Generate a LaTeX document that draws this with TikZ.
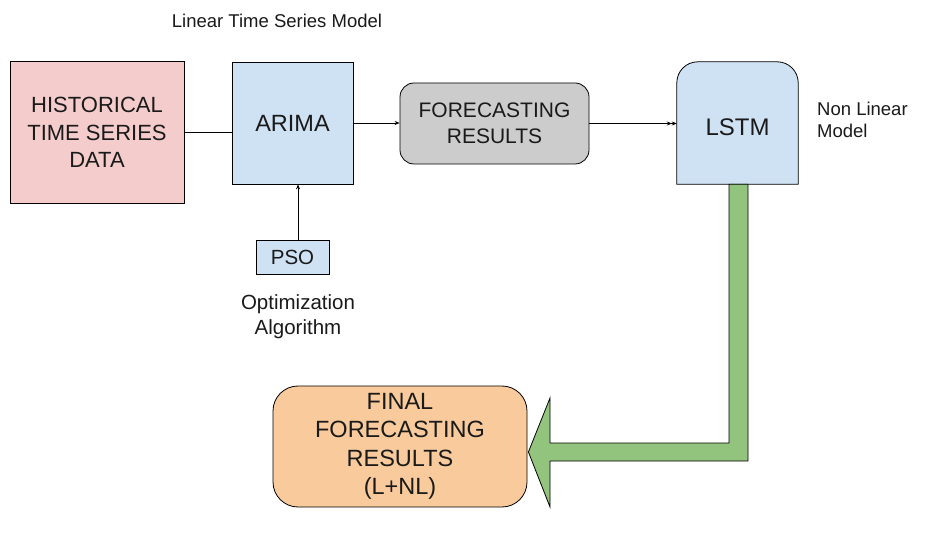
\documentclass[tikz,border=0pt]{standalone}
\usepackage{fontspec}
\setmainfont{Liberation Sans}
\usetikzlibrary{calc,arrows.meta}
\definecolor{pinkf}{HTML}{F4CCCC}
\definecolor{bluef}{HTML}{CFE2F3}
\definecolor{grayf}{HTML}{CCCCCC}
\definecolor{orangef}{HTML}{F9CB9C}
\definecolor{greenf}{HTML}{93C47D}
\definecolor{txt}{HTML}{1A1A1A}
\tikzset{
  box/.style={draw=black, line width=0.8pt, inner sep=0pt, align=center, text=txt},
  lbl/.style={inner sep=0pt, text=txt},
  conn/.style={line width=0.7pt, draw=black},
  tip/.style={-{Stealth[length=5pt,width=4pt]}},
}
\begin{document}
\begin{tikzpicture}[x=1pt,y=-1pt]
\useasboundingbox (0,0) rectangle (926,534);
\fill[white] (0,0) rectangle (926,534);

\node[box, fill=pinkf, minimum width=174pt, minimum height=142pt,
      font=\fontsize{22}{27.5}\selectfont] (hist) at (97,132.5)
  {HISTORICAL\\TIME SERIES\\DATA};
\node[box, fill=bluef, minimum width=121pt, minimum height=122pt,
      font=\fontsize{23.5}{28}\selectfont] (arima) at (292.5,123) {ARIMA};
\node[box, fill=grayf, rounded corners=14pt, minimum width=189pt, minimum height=81pt,
      font=\fontsize{21}{26}\selectfont] (fc) at (494.5,123.5)
  {FORECASTING\\RESULTS};

% LSTM: top corners rounded, bottom corners square
\node[inner sep=0pt, minimum width=121pt, minimum height=122pt] (lstm) at (737.5,123) {};
\draw[line width=0.8pt, fill=bluef]
  (lstm.south west) -- ($(lstm.north west)+(0,21)$)
  .. controls ($(lstm.north west)+(0,9.4)$) and ($(lstm.north west)+(9.4,0)$) .. ($(lstm.north west)+(21,0)$)
  -- ($(lstm.north east)+(-21,0)$)
  .. controls ($(lstm.north east)+(-9.4,0)$) and ($(lstm.north east)+(0,9.4)$) .. ($(lstm.north east)+(0,21)$)
  -- (lstm.south east) -- cycle;
\node[lbl, font=\fontsize{24}{28}\selectfont] (lstmtxt) at ($(lstm.center)+(0,4)$) {LSTM};

\node[box, fill=bluef, minimum width=73pt, minimum height=34pt,
      font=\fontsize{20.5}{25}\selectfont] (pso) at (292.5,257) {PSO};
\node[box, fill=orangef, rounded corners=25pt, minimum width=254pt, minimum height=121pt,
      font=\fontsize{23.5}{28.5}\selectfont] (final) at (400,446.5)
  {FINAL\\FORECASTING\\RESULTS\\(L+NL)};

\node[lbl, font=\fontsize{18.5}{22}\selectfont] (lin) at (277,21) {Linear Time Series Model};
\node[lbl, align=center, font=\fontsize{20.5}{25}\selectfont] (opt) at (298,317)
  {Optimization\\Algorithm};
\node[lbl, align=left, anchor=west, font=\fontsize{18.5}{22.5}\selectfont] (nonlin) at (817,120)
  {Non Linear\\Model};

% connectors
\draw[conn] (hist.east) -- (hist.east -| arima.west);
\draw[conn, tip] (arima.east) -- (arima.east -| fc.west);
\draw[conn, -{Stealth[length=5pt,width=4pt]Stealth[length=5pt,width=4pt]}] (fc.east) -- (fc.east -| lstm.west);
\draw[conn, tip] ($(pso.north)+(5.5,0)$) coordinate (p1) -- (p1 |- arima.south);

% green block arrow LSTM -> final
\coordinate (s1) at ($(lstm.south)+(-8.5,0)$);
\coordinate (s2) at ($(lstm.south)+(10.5,0)$);
\coordinate (tipc) at ($(final.east)+(1,5.5)$);
\draw[line width=0.8pt, fill=greenf]
  (s1) -- (s1 |- 0,443) -- (550,443) -- (550,398) -- (tipc) -- (550,507)
  -- (550,461) -- (s2 |- 0,461) -- (s2) -- cycle;
\end{tikzpicture}
\end{document}
